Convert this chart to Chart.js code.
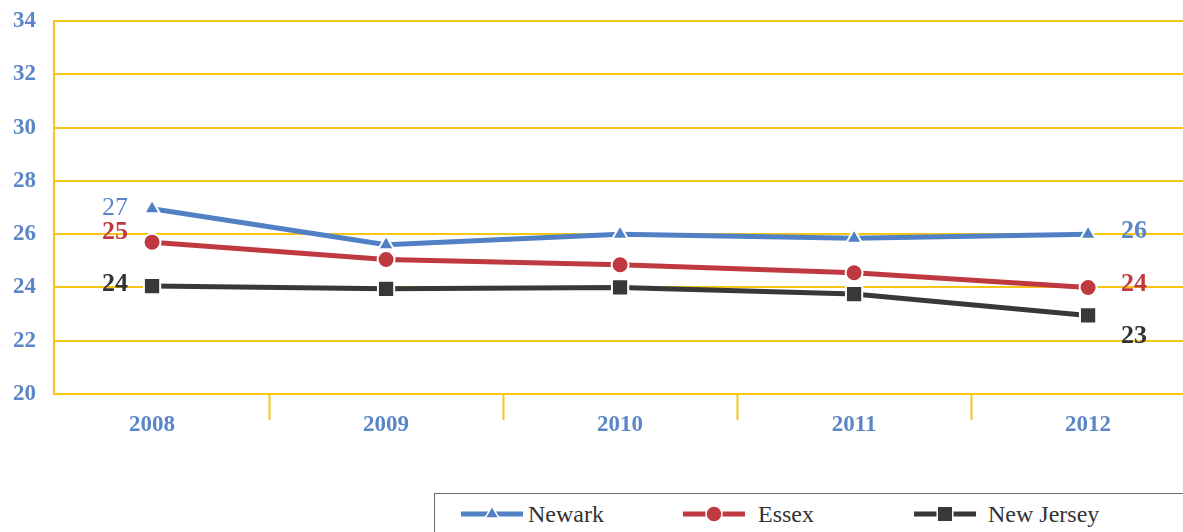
<!DOCTYPE html>
<html><head><meta charset="utf-8">
<script src="https://cdn.jsdelivr.net/npm/chart.js@4.4.0/dist/chart.umd.min.js"></script>
<style>
html,body{margin:0;padding:0;background:#fff;overflow:hidden}
#wrap{position:relative;width:1183px;height:532px;overflow:hidden}
#c{position:absolute;left:0;top:0}
#legend{position:absolute;left:434px;top:493px;width:800px;height:60px;border:1.5px solid #6b6b6b;box-sizing:border-box;background:#fff}
.item{position:absolute;top:0;height:40px;display:flex;align-items:center}
.item canvas{display:block}
.item span{font-family:"Liberation Serif";font-size:24px;color:#333;white-space:nowrap}
</style></head>
<body><div id="wrap"><canvas id="c" width="1198" height="532"></canvas><div id="legend"></div></div>
<script>
// ---- data ----
const years = [2008, 2009, 2010, 2011, 2012];
const seriesNames = ['Newark', 'Essex', 'New Jersey'];
const newark = [26.95, 25.6, 26.0, 25.85, 26.0];
const essex = [25.7, 25.05, 24.85, 24.55, 24.0];
const newJersey = [24.05, 23.95, 24.0, 23.75, 22.95];
const newarkLabels = ['27', '', '', '', '26'];
const essexLabels = ['25', '', '', '', '24'];
const newJerseyLabels = ['24', '', '', '', '23'];
const yTicks = [20, 22, 24, 26, 28, 30, 32, 34];

// ---- styles ----
const BLUE = '#5181C4', RED = '#BE3A40', DARK = '#383838', GOLD = '#F5C518', AXISBLUE = '#5A86C6';

const toPts = arr => years.map((y, i) => ({x: y, y: arr[i]}));
const series = [
  {name: seriesNames[0], values: newark, labels: newarkLabels, color: BLUE, style: 'triangle', radius: 9, order: 2,
   lab: {color: '#5A86C6', dy: [-1, 0, 0, 0, -3], weights: ['normal', '', '', '', 'bold']}},
  {name: seriesNames[1], values: essex, labels: essexLabels, color: RED, style: 'circle', radius: 8.5, order: 1,
   lab: {color: '#C0393F', dy: [-10, 0, 0, 0, -3], weights: ['bold', '', '', '', 'bold']}},
  {name: seriesNames[2], values: newJersey, labels: newJerseyLabels, color: DARK, style: 'rect', radius: 11.5, order: 3,
   lab: {color: '#333333', dy: [-2, 0, 0, 0, 21], weights: ['bold', '', '', '', 'bold']}}
];

const labelPlugin = {
  id: 'valueLabels',
  afterDatasetsDraw(chart) {
    const ctx = chart.ctx;
    ctx.save();
    ctx.textAlign = 'center';
    ctx.textBaseline = 'middle';
    series.forEach((s, di) => {
      const meta = chart.getDatasetMeta(di);
      s.labels.forEach((t, i) => {
        if (!t) return;
        const p = meta.data[i];
        const dx = i === 0 ? -37 : 46;
        ctx.font = s.lab.weights[i] + ' 26px "Liberation Serif"';
        ctx.fillStyle = s.lab.color;
        ctx.fillText(t, p.x + dx, p.y + s.lab.dy[i]);
      });
    });
    ctx.restore();
  }
};

const chart = new Chart(document.getElementById('c'), {
  type: 'line',
  data: {
    datasets: series.map(s => ({
      label: s.name,
      data: toPts(s.values),
      borderColor: s.color,
      backgroundColor: s.color,
      borderWidth: 5,
      tension: 0,
      pointStyle: s.style,
      pointRadius: s.radius,
      pointBackgroundColor: s.color,
      pointBorderColor: '#ffffff',
      pointBorderWidth: 2,
      order: s.order
    }))
  },
  options: {
    responsive: false,
    animation: false,
    devicePixelRatio: 1,
    events: [],
    layout: {padding: {top: 21, left: 0, right: 0, bottom: 0}},
    plugins: {legend: {display: false}, tooltip: {enabled: false}},
    scales: {
      x: {
        type: 'linear',
        min: 2007.581,
        max: 2012.412,
        afterBuildTicks(scale) {
          const t = [];
          years.forEach((y, i) => { t.push({value: y}); if (i < years.length - 1) t.push({value: y + 0.5}); });
          scale.ticks = t;
        },
        afterFit(scale) { scale.height = 138; scale.paddingLeft = 0; scale.paddingRight = 0; },
        border: {display: true, color: GOLD, width: 2},
        grid: {
          drawOnChartArea: false,
          drawTicks: true,
          tickLength: 26,
          tickWidth: 2,
          tickColor: c => (c.tick && !Number.isInteger(c.tick.value)) ? GOLD : 'rgba(0,0,0,0)'
        },
        ticks: {
          autoSkip: false,
          maxRotation: 0,
          padding: -9,
          color: AXISBLUE,
          font: {family: 'Liberation Serif', size: 23, weight: 'bold'},
          callback: v => Number.isInteger(v) ? String(v) : ''
        }
      },
      y: {
        min: 20,
        max: 34,
        afterBuildTicks(scale) { scale.ticks = yTicks.map(v => ({value: v})); },
        afterFit(scale) { scale.width = 54; scale.paddingTop = 0; scale.paddingBottom = 0; },
        border: {display: true, color: GOLD, width: 2},
        grid: {color: GOLD, lineWidth: 2, drawTicks: false},
        ticks: {
          padding: 18,
          color: AXISBLUE,
          font: {family: 'Liberation Serif', size: 23, weight: 'bold'}
        }
      }
    }
  },
  plugins: [labelPlugin]
});

// ---- legend (HTML, from the same series list) ----
const legendPos = [{icon: 26, text: 93}, {icon: 248, text: 323}, {icon: 479, text: 553}];
const legend = document.getElementById('legend');
series.forEach((s, i) => {
  const item = document.createElement('div');
  item.className = 'item';
  item.style.left = legendPos[i].icon + 'px';
  const cv = document.createElement('canvas');
  cv.width = 62; cv.height = 22;
  const g = cv.getContext('2d');
  g.strokeStyle = s.color; g.lineWidth = 5;
  g.beginPath(); g.moveTo(0, 11); g.lineTo(62, 11); g.stroke();
  g.fillStyle = s.color; g.strokeStyle = '#fff'; g.lineWidth = 1.5;
  Chart.helpers.drawPoint(g, {pointStyle: s.style, radius: s.style === 'rect' ? 11 : 8, borderWidth: 1.5, rotation: 0}, 31, 11);
  item.appendChild(cv);
  const sp = document.createElement('span');
  sp.textContent = s.name;
  sp.style.marginLeft = (legendPos[i].text - legendPos[i].icon - 62) + 'px';
  item.appendChild(sp);
  legend.appendChild(item);
});
</script>
</body></html>
